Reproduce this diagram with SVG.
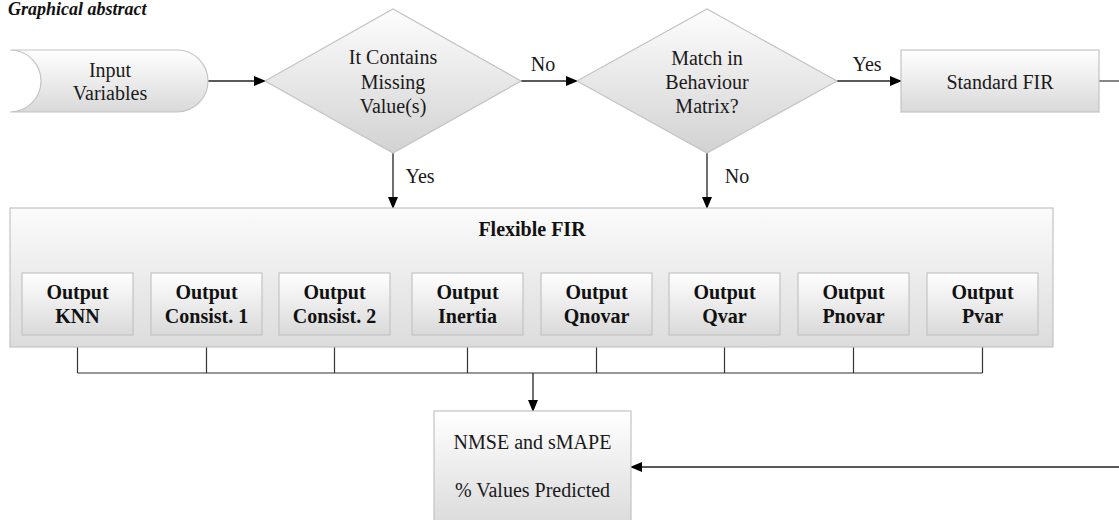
<svg xmlns="http://www.w3.org/2000/svg" width="1119" height="520" viewBox="0 0 1119 520">
<defs>
<linearGradient id="g" x1="0" y1="0" x2="0" y2="1">
<stop offset="0" stop-color="#ffffff"/>
<stop offset="1" stop-color="#d9d9d9"/>
</linearGradient>
<linearGradient id="gd" x1="0" y1="0" x2="0" y2="1">
<stop offset="0" stop-color="#fdfdfd"/>
<stop offset="1" stop-color="#d2d2d2"/>
</linearGradient>
<linearGradient id="gf" x1="0" y1="0" x2="0" y2="1">
<stop offset="0" stop-color="#fbfbfb"/>
<stop offset="1" stop-color="#dcdcdc"/>
</linearGradient>
<marker id="ah" markerWidth="12" markerHeight="10" refX="11" refY="5" orient="auto" markerUnits="userSpaceOnUse">
<path d="M0,0 L12,5 L0,10 Z" fill="#000"/>
</marker>
</defs>
<style>
.shape{stroke:#c4c4c4;stroke-width:1.2}
.t{font-family:"Liberation Serif","Times New Roman",serif;font-size:20px;fill:#1a1a1a;text-anchor:middle}
.b{font-weight:bold;fill:#111}
.c{fill:none;stroke:#333;stroke-width:1.2}
.ca{fill:none;stroke:#222;stroke-width:1.3;marker-end:url(#ah)}
</style>
<text x="8" y="15" font-family="Liberation Serif,serif" font-size="18" font-weight="bold" font-style="italic" fill="#111">Graphical abstract</text>

<g id="connectors">
<line class="ca" x1="208" y1="81" x2="265" y2="81"/>
<line class="ca" x1="521" y1="81" x2="577" y2="81"/>
<line class="ca" x1="837" y1="81" x2="901" y2="81"/>
<line class="c" x1="1099" y1="81" x2="1119" y2="81"/>
<line class="ca" x1="393" y1="153" x2="393" y2="208"/>
<line class="ca" x1="707" y1="153" x2="707" y2="208"/>
<path class="c" d="M77.5,335 V373 M206.5,335 V373 M334.5,335 V373 M467.5,335 V373 M596.5,335 V373 M724.5,335 V373 M853.5,335 V373 M982.5,335 V373 M77.5,373 H982.5"/>
<line class="ca" x1="533" y1="373" x2="533" y2="411" stroke-width="2"/>
<line class="ca" x1="1119" y1="467" x2="631" y2="467"/>
<text class="t" x="543" y="71">No</text>
<text class="t" x="867" y="71">Yes</text>
<text class="t" x="420" y="183">Yes</text>
<text class="t" x="737" y="183">No</text>
</g>

<g id="input">
<path class="shape" fill="url(#g)" d="M10,50 L177,50 A31,31 0 0 1 177,112 L10,112 A31,31 0 0 0 10,50 Z"/>
<text class="t" x="110" y="77">Input</text>
<text class="t" x="110" y="100">Variables</text>
</g>

<g id="missing">
<polygon class="shape" fill="url(#gd)" points="265,81 393,9 521,81 393,153"/>
<text class="t" x="393" y="64">It Contains</text>
<text class="t" x="393" y="89">Missing</text>
<text class="t" x="393" y="113">Value(s)</text>
</g>

<g id="match">
<polygon class="shape" fill="url(#gd)" points="577,81 707,9 837,81 707,153"/>
<text class="t" x="707" y="65">Match in</text>
<text class="t" x="707" y="89">Behaviour</text>
<text class="t" x="707" y="113">Matrix?</text>
</g>

<g id="standard">
<rect class="shape" fill="url(#g)" x="901" y="50" width="198" height="62"/>
<text class="t" x="1000" y="89">Standard FIR</text>
</g>

<g id="flexible">
<rect class="shape" fill="url(#gf)" x="10" y="208" width="1043" height="139"/>
<text class="t b" x="532" y="236">Flexible FIR</text>
</g>

<g id="out-knn">
<rect class="shape" fill="url(#g)" x="22" y="273" width="111" height="62"/>
<text class="t b" x="77.5" y="299">Output</text>
<text class="t b" x="77.5" y="323">KNN</text>
</g>
<g id="out-c1">
<rect class="shape" fill="url(#g)" x="151" y="273" width="111" height="62"/>
<text class="t b" x="206.5" y="299">Output</text>
<text class="t b" x="206.5" y="323">Consist. 1</text>
</g>
<g id="out-c2">
<rect class="shape" fill="url(#g)" x="279" y="273" width="111" height="62"/>
<text class="t b" x="334.5" y="299">Output</text>
<text class="t b" x="334.5" y="323">Consist. 2</text>
</g>
<g id="out-inertia">
<rect class="shape" fill="url(#g)" x="412" y="273" width="111" height="62"/>
<text class="t b" x="467.5" y="299">Output</text>
<text class="t b" x="467.5" y="323">Inertia</text>
</g>
<g id="out-qnovar">
<rect class="shape" fill="url(#g)" x="541" y="273" width="111" height="62"/>
<text class="t b" x="596.5" y="299">Output</text>
<text class="t b" x="596.5" y="323">Qnovar</text>
</g>
<g id="out-qvar">
<rect class="shape" fill="url(#g)" x="669" y="273" width="111" height="62"/>
<text class="t b" x="724.5" y="299">Output</text>
<text class="t b" x="724.5" y="323">Qvar</text>
</g>
<g id="out-pnovar">
<rect class="shape" fill="url(#g)" x="798" y="273" width="111" height="62"/>
<text class="t b" x="853.5" y="299">Output</text>
<text class="t b" x="853.5" y="323">Pnovar</text>
</g>
<g id="out-pvar">
<rect class="shape" fill="url(#g)" x="927" y="273" width="111" height="62"/>
<text class="t b" x="982.5" y="299">Output</text>
<text class="t b" x="982.5" y="323">Pvar</text>
</g>

<g id="results">
<rect class="shape" fill="url(#g)" x="434" y="411" width="197" height="120"/>
<text class="t" x="532.5" y="449">NMSE and sMAPE</text>
<text class="t" x="532.5" y="497">% Values Predicted</text>
</g>
</svg>
